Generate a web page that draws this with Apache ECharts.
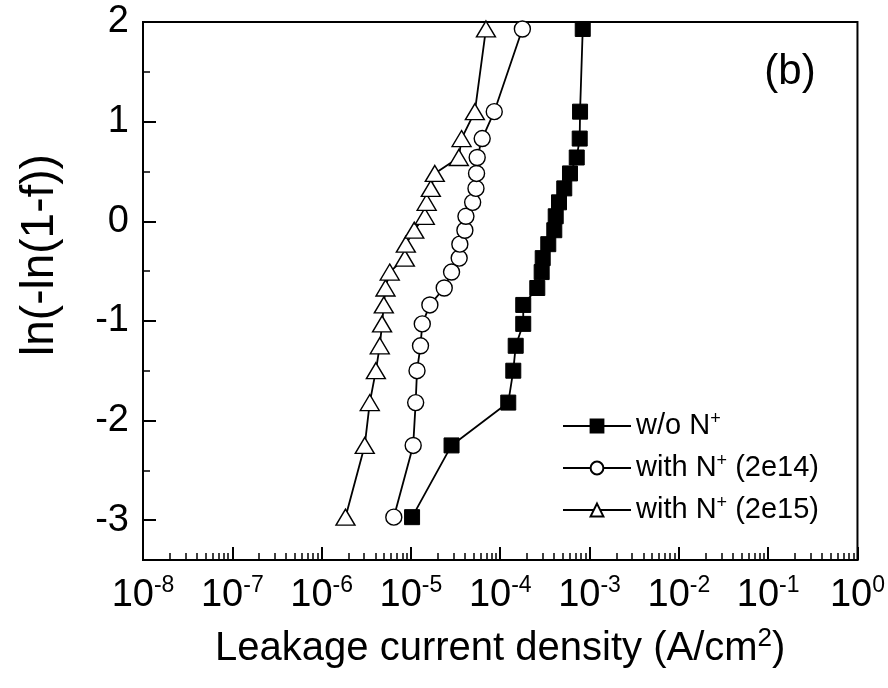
<!DOCTYPE html>
<html>
<head>
<meta charset="utf-8">
<script src="https://cdn.jsdelivr.net/npm/echarts@6/dist/echarts.min.js"></script>
<style>
  html, body { margin: 0; padding: 0; background: #fff; }
  #chart { width: 888px; height: 688px; }
</style>
</head>
<body>
<div id="chart"></div>
<script>
// Weibull plotting positions ln(-ln(1-F)), shared by all three samples
const weibullY = [-2.97, -2.25, -1.82, -1.50, -1.25, -1.03, -0.84, -0.67, -0.51, -0.37,
                  -0.23, -0.09, 0.05, 0.19, 0.33, 0.48, 0.64, 0.83, 1.10, 1.93];

// Leakage current density (A/cm^2), sorted ascending
const jWithoutN = [1.03e-5, 2.85e-5, 1.23e-4, 1.40e-4, 1.49e-4, 1.81e-4, 1.81e-4, 2.60e-4, 2.91e-4, 2.99e-4,
                   3.45e-4, 4.03e-4, 4.18e-4, 4.55e-4, 5.21e-4, 6.04e-4, 7.19e-4, 7.76e-4, 7.83e-4, 8.39e-4];
const jN2e14 = [6.43e-6, 1.06e-5, 1.13e-5, 1.17e-5, 1.28e-5, 1.34e-5, 1.63e-5, 2.36e-5, 2.85e-5, 3.47e-5,
                3.53e-5, 4.02e-5, 4.13e-5, 4.91e-5, 5.35e-5, 5.43e-5, 5.52e-5, 6.28e-5, 8.57e-5, 1.77e-4];
const jN2e15 = [1.85e-6, 3.04e-6, 3.46e-6, 4.05e-6, 4.48e-6, 4.75e-6, 4.97e-6, 5.19e-6, 5.79e-6, 8.55e-6,
                8.77e-6, 1.09e-5, 1.43e-5, 1.50e-5, 1.67e-5, 1.85e-5, 3.44e-5, 3.69e-5, 5.20e-5, 6.92e-5];

const seriesNames = ['w/o N{sup|+}', 'with N{sup|+} (2e14)', 'with N{sup|+} (2e15)'];

// Axis ticks
const yMajorTicks = [-3, -2, -1, 0, 1, 2];
const yMinorTicks = [-2.5, -1.5, -0.5, 0.5, 1.5];
const xMinorTicks = [];
for (let e = -8; e < 0; e++) {
  for (let m = 2; m <= 9; m++) xMinorTicks.push(m * Math.pow(10, e));
}

const FONT = 'Liberation Sans, Arial, sans-serif';

function pairs(xs, ys) { return xs.map((x, i) => [x, ys[i]]); }

const chart = echarts.init(document.getElementById('chart'), null, { renderer: 'canvas' });

const lineBase = {
  type: 'line',
  xAxisIndex: 0,
  yAxisIndex: 0,
  lineStyle: { color: '#000', width: 1.8 },
  emphasis: { disabled: true },
  animation: false
};

chart.setOption({
  backgroundColor: '#fff',
  textStyle: { fontFamily: FONT, color: '#000' },
  grid: {
    left: 143, right: 29, top: 22, bottom: 128,
    show: true, borderColor: '#000', borderWidth: 2, backgroundColor: 'transparent'
  },
  xAxis: [{
    type: 'log', logBase: 10, min: 1e-8, max: 1, interval: 1,
    position: 'bottom',
    name: 'Leakage current density (A/cm{sup|2})',
    nameLocation: 'middle', nameGap: 66,
    nameTextStyle: {
      fontFamily: FONT, fontSize: 40, color: '#000', verticalAlign: 'top',
      rich: { sup: { fontSize: 26, padding: [0, 0, 20, 0], fontFamily: FONT, color: '#000' } }
    },
    axisLine: { show: true, onZero: false, lineStyle: { color: '#000', width: 2 } },
    axisTick: { show: true, inside: true, length: 13, lineStyle: { color: '#000', width: 2 } },
    axisLabel: {
      margin: 14,
      formatter: v => '{b|10}{s|' + Math.round(Math.log10(v)) + '}',
      rich: {
        b: { fontSize: 38, fontFamily: FONT, color: '#000' },
        s: { fontSize: 23, fontFamily: FONT, color: '#000', padding: [0, 0, 20, 0] }
      }
    },
    splitLine: { show: false },
    minorTick: { show: false }
  }, {
    type: 'log', logBase: 10, min: 1e-8, max: 1,
    position: 'bottom',
    axisLine: { show: false, onZero: false },
    axisTick: { show: true, inside: true, length: 7, customValues: xMinorTicks,
                lineStyle: { color: '#000', width: 1.5 } },
    axisLabel: { show: false },
    splitLine: { show: false }
  }],
  yAxis: [{
    type: 'value', min: -3.4, max: 2,
    position: 'left',
    axisLine: { show: true, onZero: false, lineStyle: { color: '#000', width: 2 } },
    axisTick: { show: true, inside: true, length: 13, customValues: yMajorTicks,
                lineStyle: { color: '#000', width: 2 } },
    axisLabel: { customValues: yMajorTicks, margin: 14, fontSize: 38, fontFamily: FONT, color: '#000' },
    splitLine: { show: false }
  }, {
    type: 'value', min: -3.4, max: 2,
    position: 'left',
    axisLine: { show: false, onZero: false },
    axisTick: { show: true, inside: true, length: 7, customValues: yMinorTicks,
                lineStyle: { color: '#000', width: 1.5 } },
    axisLabel: { show: false },
    splitLine: { show: false }
  }],
  legend: {
    orient: 'vertical',
    left: 557, top: 400,
    itemGap: 0,
    itemWidth: 68, itemHeight: 16,
    data: seriesNames,
    textStyle: {
      fontFamily: FONT, fontSize: 29, color: '#000', lineHeight: 42,
      rich: { sup: { fontSize: 18, lineHeight: 42, padding: [0, 0, 14, 0], fontFamily: FONT, color: '#000' } }
    },
    selectedMode: false
  },
  graphic: [{
    // y-axis title
    type: 'text', x: 40, y: 255, rotation: Math.PI / 2,
    style: { text: 'ln(-ln(1-f))', fontFamily: FONT, fontSize: 46, fill: '#000',
             align: 'center', verticalAlign: 'middle' }
  }, {
    type: 'text', x: 790, y: 72,
    style: { text: '(b)', fontFamily: FONT, fontSize: 42, fill: '#000',
             align: 'center', verticalAlign: 'middle' }
  }],
  series: [
    Object.assign({}, lineBase, {
      name: seriesNames[0],
      data: pairs(jWithoutN, weibullY),
      symbol: 'rect', symbolSize: 15,
      itemStyle: { color: '#000', borderColor: '#000', borderWidth: 1 },
      z: 4
    }),
    Object.assign({}, lineBase, {
      name: seriesNames[1],
      data: pairs(jN2e14, weibullY),
      symbol: 'circle', symbolSize: 16,
      itemStyle: { color: '#fff', borderColor: '#000', borderWidth: 1.4 },
      z: 3
    }),
    Object.assign({}, lineBase, {
      name: seriesNames[2],
      data: pairs(jN2e15, weibullY),
      symbol: 'triangle', symbolSize: [19, 16],
      itemStyle: { color: '#fff', borderColor: '#000', borderWidth: 1.4 },
      z: 2
    })
  ]
});
</script>
</body>
</html>
